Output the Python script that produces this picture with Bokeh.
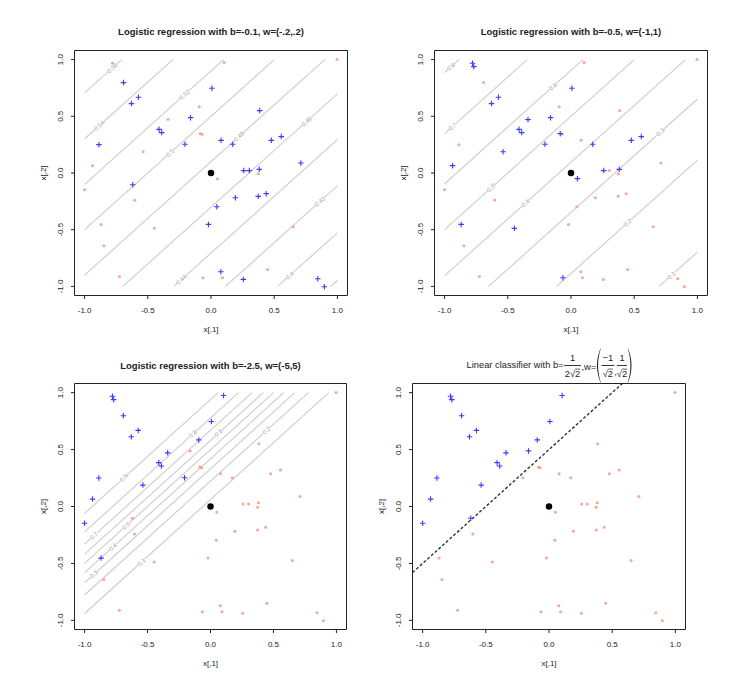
import math
import numpy as np
from bokeh.plotting import figure
from bokeh.layouts import row, column
from bokeh.models import Range1d, Label
from bokeh.core.properties import value
from bokeh.embed import file_html
from bokeh.resources import INLINE

# ---------------- data ----------------
x1 = [-0.779, -0.769, -0.692, -0.574, -0.629, 0.104, 0.007, -0.093, -0.162, -0.340,
      -0.411, -0.390, -0.887, -0.537, -0.937, -1.000, -0.619, 0.997, 0.385, -0.085,
      -0.070, -0.206, 0.080, 0.172, 0.477, 0.556, 0.711, 0.259, 0.303, 0.374,
      0.382, 0.051, 0.193, 0.374, 0.437, 0.046, -0.603, -0.869, -0.448, -0.020,
      0.650, -0.847, -0.724, -0.064, 0.078, 0.091, 0.256, 0.448, 0.845, 0.897]
x2 = [0.968, 0.938, 0.797, 0.668, 0.612, 0.974, 0.747, 0.585, 0.488, 0.471,
      0.385, 0.356, 0.250, 0.188, 0.065, -0.147, -0.103, 1.000, 0.550, 0.347,
      0.341, 0.253, 0.288, 0.253, 0.288, 0.321, 0.088, 0.021, 0.021, -0.006,
      0.032, -0.050, -0.218, -0.206, -0.182, -0.297, -0.241, -0.453, -0.488, -0.453,
      -0.474, -0.641, -0.912, -0.924, -0.871, -0.924, -0.938, -0.850, -0.932, -1.003]

# indices of points labelled "+" (blue) in each panel
blue_1 = [2, 3, 4, 6, 8, 10, 11, 12, 16, 18, 21, 22, 23, 24, 25, 26, 27, 28, 30,
          32, 33, 34, 35, 39, 44, 46, 48, 49]
blue_2 = [0, 1, 3, 4, 6, 8, 9, 10, 11, 13, 14, 19, 21, 23, 24, 25, 27, 30, 31,
          37, 38, 43]
blue_3 = [0, 1, 2, 3, 4, 5, 6, 7, 9, 10, 11, 12, 13, 14, 15, 21, 37]
blue_4 = [0, 1, 2, 3, 4, 5, 6, 7, 8, 9, 10, 11, 12, 13, 14, 15, 16]

titles = ["Logistic regression with b=-0.1, w=(-.2,.2)",
          "Logistic regression with b=-0.5, w=(-1,1)",
          "Logistic regression with b=-2.5, w=(-5,5)"]
b_vals = [-0.1, -0.5, -2.5, 1 / (2 * math.sqrt(2))]
w_vals = [(-0.2, 0.2), (-1.0, 1.0), (-5.0, 5.0), (-1 / math.sqrt(2), 1 / math.sqrt(2))]

levels_1 = [0.38, 0.40, 0.42, 0.44, 0.46, 0.48, 0.50, 0.52, 0.54, 0.56]
levels_2 = [0.1, 0.2, 0.3, 0.4, 0.5, 0.6, 0.7, 0.8]
levels_3 = [0.1, 0.2, 0.3, 0.4, 0.5, 0.6, 0.7, 0.8, 0.9]
# x[,1] where each contour label sits (None = no label)
labx_1 = [None, 0.624, 0.862, -0.235, 0.757, 0.222, -0.323, -0.209, -0.884, -0.78]
labx_2 = [0.796, 0.447, 0.709, -0.36, -0.632, -0.143, -0.937, -0.95]
labx_3 = [-0.548, 0.444, -0.926, -0.775, -0.669, 0.066, -0.926, -0.138, -0.688]

tick_vals = [-1.0, -0.5, 0.0, 0.5, 1.0]
tick_labels = ["-1.0", "-0.5", "0.0", "0.5", "1.0"]
xlab = "x[,1]"
ylab = "x[,2]"

# ---------------- style ----------------
FONT = "Liberation Sans"
INK = "#222222"
BLUE = "#3b3bff"
PINK = "#ffa391"
GRID_C = "#cccccc"
LAB_C = "#a0a0a0"
RNG = (-1.08, 1.08)

# canvas (w, h), box offset (left, top) and box size (w, h), in px
geo = [(368, 338, 74, 50, 273, 245), (360, 338, 66, 50, 273, 245),
       (368, 330, 74, 45, 272, 246), (360, 330, 44, 45, 273, 246)]
title_gap = [19, 19, 18, 18]


def logit(p):
    return math.log(p / (1 - p))


class Panel:
    """A figure whose frame is the whole canvas; axes are drawn by hand (R style)."""

    def __init__(self, W, H, L, T, FW, FH):
        self.ux = FW / (RNG[1] - RNG[0])
        self.uy = FH / (RNG[1] - RNG[0])
        self.x0 = RNG[0] - L / self.ux
        self.x1 = RNG[1] + (W - L - FW) / self.ux
        self.y1 = RNG[1] + T / self.uy
        self.y0 = RNG[0] - (H - T - FH) / self.uy
        self.FW, self.FH = FW, FH
        p = figure(width=W, height=H, output_backend="svg", toolbar_location=None,
                   x_range=Range1d(self.x0, self.x1), y_range=Range1d(self.y0, self.y1),
                   min_border=0, background_fill_color="white",
                   border_fill_color="white")
        p.axis.visible = False
        p.xgrid.visible = False
        p.ygrid.visible = False
        p.outline_line_color = None
        self.p = p

    def txt(self, x, y, s, size="8px", align="center", angle=0.0, style="normal"):
        self.p.text(x=[x], y=[y], text=[s], text_font=value(FONT), text_font_size=size,
                    text_align=align, text_baseline="middle", text_color=INK,
                    angle=angle, text_font_style=style)

    def axes(self):
        p, r0, r1 = self.p, RNG[0], RNG[1]
        p.line([r0, r1, r1, r0, r0], [r0, r0, r1, r1, r0], line_color=INK, line_width=1)
        tk = 3.5
        for t, s in zip(tick_vals, tick_labels):
            p.segment(x0=[t], y0=[r0], x1=[t], y1=[r0 - tk / self.uy],
                      line_color=INK, line_width=1)
            p.segment(x0=[r0], y0=[t], x1=[r0 - tk / self.ux], y1=[t],
                      line_color=INK, line_width=1)
            self.txt(t, r0 - 14.5 / self.uy, s)
            self.txt(r0 - 14 / self.ux, t, s, angle=math.pi / 2)
        self.txt(0.0, r0 - 33.5 / self.uy, xlab)
        self.txt(r0 - 31.5 / self.ux, 0.0, ylab, angle=math.pi / 2)

    def points(self, blue_idx):
        bset = set(blue_idx)
        px = [x1[i] for i in range(len(x1)) if i not in bset]
        py = [x2[i] for i in range(len(x1)) if i not in bset]
        bx = [x1[i] for i in blue_idx]
        by = [x2[i] for i in blue_idx]
        self.p.scatter(px, py, marker="circle", size=3, fill_color=PINK, line_color=None)
        self.p.scatter(bx, by, marker="cross", size=5.5, line_color=BLUE, line_width=1.1)
        self.p.scatter([0], [0], marker="circle", size=6.5, fill_color="black",
                       line_color=None)

    def contours(self, b, w, levels, labx):
        m = -w[0] / w[1]
        ang = math.atan(m * self.FH / self.FW)
        for lev, lx in zip(levels, labx):
            c = (logit(lev) - b) / w[1]
            lo = max(-1.0, (-1.0 - c) / m)
            hi = min(1.0, (1.0 - c) / m)
            if lo >= hi:
                continue
            self.p.line([lo, hi], [c + m * lo, c + m * hi], line_color=GRID_C,
                        line_width=1.1)
            if lx is not None:
                self.p.add_layout(Label(x=lx, y=c + m * lx, text="%g" % round(lev, 2),
                                        angle=ang, text_align="center",
                                        text_baseline="middle", text_font=FONT,
                                        text_font_size="6px", text_color=LAB_C,
                                        background_fill_color="white"))


all_levels = [levels_1, levels_2, levels_3]
all_labx = [labx_1, labx_2, labx_3]
all_blue = [blue_1, blue_2, blue_3, blue_4]

figs = []
for k in range(3):
    P = Panel(*geo[k])
    P.contours(b_vals[k], w_vals[k], all_levels[k], all_labx[k])
    P.points(all_blue[k])
    P.axes()
    P.txt(0.0, RNG[1] + title_gap[k] / P.uy, titles[k], size="9.5px", style="bold")
    figs.append(P.p)

# ---------------- panel 4: linear classifier ----------------
P4 = Panel(*geo[3])
r0, r1 = RNG
b4 = b_vals[3]
w4 = w_vals[3]
slope = -w4[0] / w4[1]
icpt = b4 / w4[1]
lo = max(r0, (r0 - icpt) / slope)
hi = min(r1, (r1 - icpt) / slope)
P4.p.line([lo, hi], [icpt + slope * lo, icpt + slope * hi],
          line_color="#333333", line_width=1.4, line_dash="3 2")
P4.points(blue_4)
P4.axes()

# title: Linear classifier with b = 1/(2 sqrt2), w = (-1/sqrt2, 1/sqrt2)
OX, OY = 368, 338      # page position of this canvas


def pc(X, Y):
    return P4.x0 + (X - OX) / P4.ux, P4.y1 - (Y - OY) / P4.uy


def ptxt(X, Y, s, size="9.3px", align="center"):
    x, y = pc(X, Y)
    P4.txt(x, y, s, size=size, align=align)


def pbar(Xa, Xb, Y, lw=0.9):
    xa, y = pc(Xa, Y)
    xb, _ = pc(Xb, Y)
    P4.p.segment(x0=[xa], y0=[y], x1=[xb], y1=[y], line_color=INK, line_width=lw)


def pparen(Xend, Y, h, d, left=True):
    s = np.linspace(-1, 1, 25)
    sign = -1 if left else 1
    outer = Xend + sign * d * (1 - s ** 2)
    inner = outer - sign * (0.35 + 0.75 * (1 - s ** 2))
    Ys = Y + s * h / 2
    pts = [pc(a, b) for a, b in zip(list(outer) + list(inner[::-1]),
                                     list(Ys) + list(Ys[::-1]))]
    P4.p.patch([q[0] for q in pts], [q[1] for q in pts], fill_color=INK, line_color=None)


def sqrt_bar(Xc, total_em, size=9.3, Y=368.6):
    # vinculum over the last "2" of a centred "...√2"
    right = Xc + total_em * size / 2
    pbar(right - 0.556 * size, right, Y, lw=0.7)


ptxt(563, 364.5, "Linear classifier with b=", align="right")
ptxt(572, 357, "1")
pbar(563.5, 580.5, 365)
ptxt(572, 373.3, "2√2")
sqrt_bar(572, 1.661)
ptxt(581, 366, ",w=", align="left")
pparen(600, 365, 34, 3.5, left=True)
ptxt(607.3, 357, "−1")
pbar(601, 614, 365)
ptxt(607.3, 373.3, "√2")
sqrt_bar(607.3, 1.105)
ptxt(615, 371, ",")
ptxt(621.5, 357, "1")
pbar(616.5, 626.5, 365)
ptxt(621.5, 373.3, "√2")
sqrt_bar(621.5, 1.105)
pparen(627.5, 365, 34, 3.5, left=False)
figs.append(P4.p)

layout = column(row(figs[0], figs[1]), row(figs[2], figs[3]))
open("out.html", "w").write(file_html(layout, INLINE))
